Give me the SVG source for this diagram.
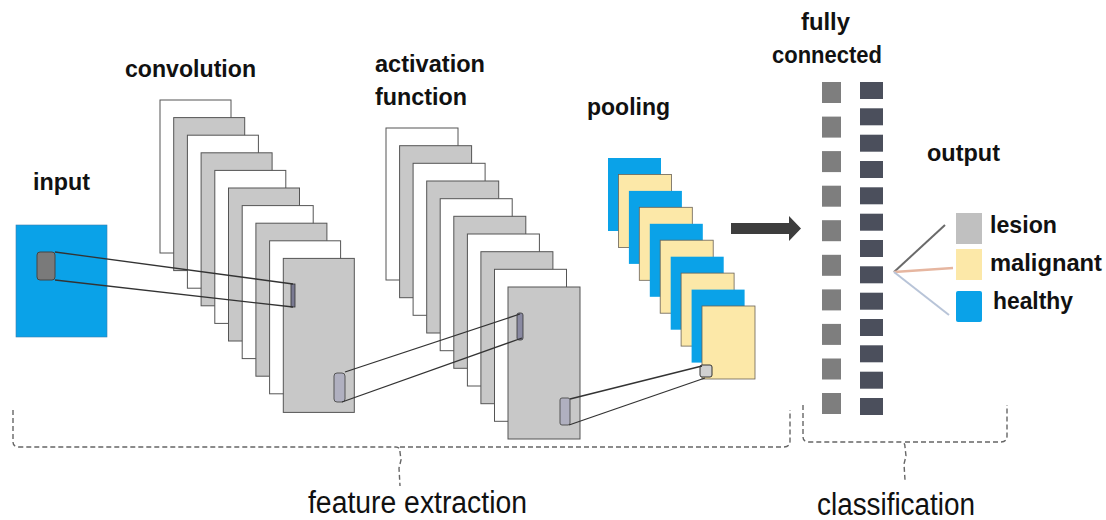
<svg xmlns="http://www.w3.org/2000/svg" width="1106" height="520" viewBox="0 0 1106 520">
<style>
.lbl{font-family:"Liberation Sans",Arial,sans-serif;font-weight:bold;font-size:24px;fill:#111}
.cap{font-family:"Liberation Sans",Arial,sans-serif;font-size:31px;fill:#111}
.fw{fill:#ffffff;stroke:#555;stroke-width:1}
.fg{fill:#c8c8c8;stroke:#555;stroke-width:1}
.pb{fill:#0aa2e8}
.py{fill:#fce8a8;stroke:#6a6256;stroke-width:0.8}
.fc1{fill:#7e7e7e}
.fc2{fill:#4b4f5c}
.ln{stroke:#333;stroke-width:1.3;fill:none}
.br{stroke:#666;stroke-width:1.4;fill:none;stroke-dasharray:5 3}
</style>
<rect width="1106" height="520" fill="#ffffff"/>

<g id="input">
<rect x="16" y="225" width="91" height="112" fill="#0aa2e8" stroke="#3a7fb0" stroke-width="0.6"/>
<rect x="37" y="252" width="18" height="28" rx="3" fill="#7a7a7a" stroke="#444" stroke-width="1"/>
<text class="lbl" x="33" y="190" textLength="57" lengthAdjust="spacingAndGlyphs">input</text>
</g>

<g id="convolution">
<rect class="fw" x="160" y="100" width="71" height="153"/>
<rect class="fg" x="173.7" y="117.6" width="71" height="153"/>
<rect class="fw" x="187.4" y="135.2" width="71" height="153"/>
<rect class="fg" x="201.1" y="152.8" width="71" height="153"/>
<rect class="fw" x="214.8" y="170.4" width="71" height="153"/>
<rect class="fg" x="228.5" y="188" width="71" height="153"/>
<rect class="fw" x="242.2" y="205.6" width="71" height="153"/>
<rect class="fg" x="255.9" y="223.2" width="71" height="153"/>
<rect class="fw" x="269.6" y="240.8" width="71" height="153"/>
<rect class="fg" x="283.3" y="258.4" width="71" height="154"/>
<rect x="291" y="284" width="4" height="23" fill="#7a7a92" stroke="#333" stroke-width="0.8"/>
<rect x="334" y="373" width="11" height="29" rx="3" fill="#b0b0c0" stroke="#555" stroke-width="1"/>
<text class="lbl" x="125" y="77" textLength="131" lengthAdjust="spacingAndGlyphs">convolution</text>
</g>

<g id="activation">
<rect class="fw" x="386" y="128" width="72" height="152"/>
<rect class="fg" x="399.6" y="145.7" width="72" height="152"/>
<rect class="fw" x="413.1" y="163.3" width="72" height="152"/>
<rect class="fg" x="426.7" y="181" width="72" height="152"/>
<rect class="fw" x="440.2" y="198.7" width="72" height="152"/>
<rect class="fg" x="453.8" y="216.3" width="72" height="152"/>
<rect class="fw" x="467.4" y="234" width="72" height="152"/>
<rect class="fg" x="480.9" y="251.7" width="72" height="152"/>
<rect class="fw" x="494.5" y="269.3" width="72" height="152"/>
<rect class="fg" x="508" y="287" width="72" height="152"/>
<rect x="517" y="313" width="6" height="27" rx="2" fill="#8a8aa2" stroke="#333" stroke-width="0.8"/>
<rect x="560" y="398" width="10" height="27" rx="2" fill="#b0b0c0" stroke="#555" stroke-width="1"/>
<text class="lbl" x="375" y="72" textLength="110" lengthAdjust="spacingAndGlyphs">activation</text>
<text class="lbl" x="375" y="105" textLength="92" lengthAdjust="spacingAndGlyphs">function</text>
</g>

<g id="pooling">
<rect class="pb" x="608" y="158" width="53" height="73"/>
<rect class="py" x="618.4" y="174.4" width="53" height="73"/>
<rect class="pb" x="628.9" y="190.9" width="53" height="73"/>
<rect class="py" x="639.3" y="207.3" width="53" height="73"/>
<rect class="pb" x="649.8" y="223.8" width="53" height="73"/>
<rect class="py" x="660.2" y="240.2" width="53" height="73"/>
<rect class="pb" x="670.7" y="256.7" width="53" height="73"/>
<rect class="py" x="681.1" y="273.1" width="53" height="73"/>
<rect class="pb" x="691.6" y="289.6" width="53" height="73"/>
<rect class="py" x="702" y="306" width="53" height="73"/>
<rect x="700" y="365" width="12" height="12" rx="2" fill="#d0d0d0" stroke="#333" stroke-width="1"/>
<text class="lbl" x="587" y="115" textLength="83" lengthAdjust="spacingAndGlyphs">pooling</text>
</g>

<g id="fully-connected">
<rect class="fc1" x="822" y="82" width="19" height="21"/>
<rect class="fc1" x="822" y="116.6" width="19" height="21"/>
<rect class="fc1" x="822" y="151.1" width="19" height="21"/>
<rect class="fc1" x="822" y="185.7" width="19" height="21"/>
<rect class="fc1" x="822" y="220.2" width="19" height="21"/>
<rect class="fc1" x="822" y="254.8" width="19" height="21"/>
<rect class="fc1" x="822" y="289.4" width="19" height="21"/>
<rect class="fc1" x="822" y="323.9" width="19" height="21"/>
<rect class="fc1" x="822" y="358.5" width="19" height="21"/>
<rect class="fc1" x="822" y="393" width="19" height="21"/>
<rect class="fc2" x="860" y="82" width="23" height="17"/>
<rect class="fc2" x="860" y="108.3" width="23" height="17"/>
<rect class="fc2" x="860" y="134.7" width="23" height="17"/>
<rect class="fc2" x="860" y="161" width="23" height="17"/>
<rect class="fc2" x="860" y="187.3" width="23" height="17"/>
<rect class="fc2" x="860" y="213.7" width="23" height="17"/>
<rect class="fc2" x="860" y="240" width="23" height="17"/>
<rect class="fc2" x="860" y="266.3" width="23" height="17"/>
<rect class="fc2" x="860" y="292.7" width="23" height="17"/>
<rect class="fc2" x="860" y="319" width="23" height="17"/>
<rect class="fc2" x="860" y="345.3" width="23" height="17"/>
<rect class="fc2" x="860" y="371.7" width="23" height="17"/>
<rect class="fc2" x="860" y="398" width="23" height="17"/>
<text class="lbl" x="801" y="30" textLength="49" lengthAdjust="spacingAndGlyphs">fully</text>
<text class="lbl" x="772" y="63" textLength="110" lengthAdjust="spacingAndGlyphs">connected</text>
</g>

<g id="output">
<text class="lbl" x="927" y="161" textLength="73" lengthAdjust="spacingAndGlyphs">output</text>
<rect x="956" y="213" width="26" height="31" fill="#c0c0c0"/>
<rect x="956" y="249" width="26" height="31" fill="#fce8a8"/>
<rect x="956" y="291" width="26" height="31" rx="2" fill="#0aa2e8"/>
<text class="lbl" x="990" y="233" textLength="67" lengthAdjust="spacingAndGlyphs">lesion</text>
<text class="lbl" x="990" y="271" textLength="112" lengthAdjust="spacingAndGlyphs">malignant</text>
<text class="lbl" x="993" y="309" textLength="80" lengthAdjust="spacingAndGlyphs">healthy</text>
</g>

<g id="connectors">
<line class="ln" x1="55" y1="252" x2="293" y2="284"/>
<line class="ln" x1="55" y1="280" x2="293" y2="307"/>
<line class="ln" x1="345" y1="372" x2="520" y2="314"/>
<line class="ln" x1="342" y1="402" x2="522" y2="338"/>
<line class="ln" x1="570" y1="399" x2="702" y2="366"/>
<line class="ln" x1="569" y1="425" x2="705" y2="378"/>
<polygon points="731,223 789,223 789,216 801,228.5 789,241 789,234 731,234" fill="#3d3d3d"/>
<line x1="894" y1="272" x2="945" y2="225" stroke="#6a6a6a" stroke-width="2"/>
<line x1="894" y1="272" x2="953" y2="268" stroke="#e6b6a0" stroke-width="2.5"/>
<line x1="894" y1="272" x2="949" y2="315" stroke="#b8c4d8" stroke-width="2"/>
</g>

<g id="feature-extraction">
<path class="br" d="M13,410 L13,442 Q13,447 19,447 L396,447 Q400,447 400,452 L401,460 L399,468 L400,486"/>
<path class="br" d="M400,447 L784,447 Q790,447 790,441 L790,410"/>
<text class="cap" x="308" y="513" textLength="219" lengthAdjust="spacingAndGlyphs">feature extraction</text>
</g>

<g id="classification">
<path class="br" d="M803,405 L803,437 Q803,442 809,442 L901,442 Q905,442 905,447 L906,456 L904,464 L905,480"/>
<path class="br" d="M905,442 L1001,442 Q1007,442 1007,436 L1007,405"/>
<text class="cap" x="817" y="515" textLength="158" lengthAdjust="spacingAndGlyphs">classification</text>
</g>
</svg>
